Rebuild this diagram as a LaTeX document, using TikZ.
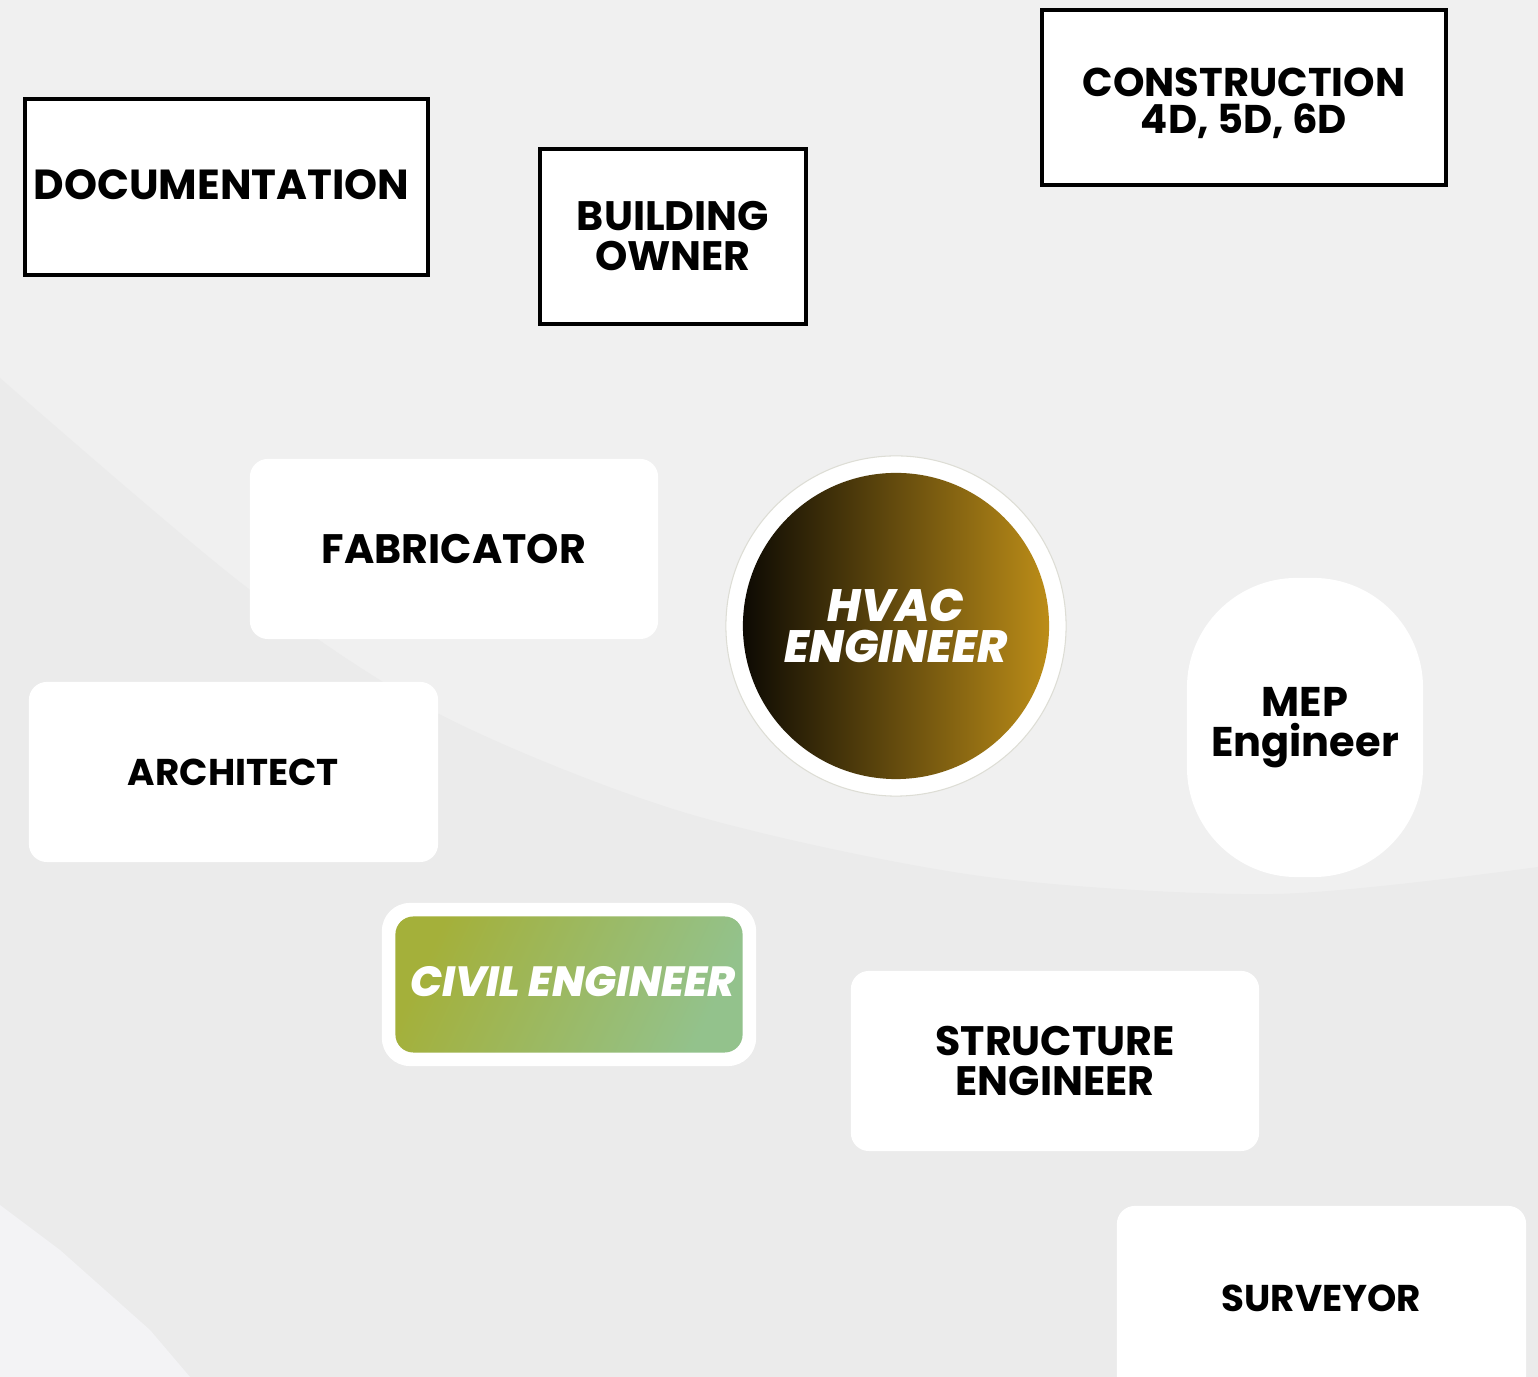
\documentclass[tikz,border=0pt]{standalone}
\usepackage{fontspec}
\setmainfont{Poppins}
\newfontfamily\heavyfont{Poppins ExtraBold Italic}
\usetikzlibrary{positioning}

\definecolor{bgtop}{HTML}{F0F0F0}
\definecolor{bgbottom}{HTML}{EBEBEB}
\definecolor{bgcorner}{HTML}{F3F3F5}
\definecolor{hvacdark}{HTML}{0D0A03}
\definecolor{hvacgold}{HTML}{BC8D18}
\definecolor{civilleft}{HTML}{A4B03A}
\definecolor{civilright}{HTML}{93C28C}
\definecolor{ringgrey}{HTML}{DDDDD5}

\newcommand{\boxfont}[1]{\fontsize{#1}{11.4}\selectfont\bfseries}

\begin{document}
\begin{tikzpicture}[x=0.01cm,y=-0.01cm,
 label text/.style={font=\boxfont{11.7},align=center,text=black},
 framed/.style={label text,draw=black,line width=0.04cm,fill=white,
  minimum width=4.03cm,minimum height=1.76cm,inner sep=0pt},
 card/.style={label text,fill=white,rounded corners=0.18cm,
  minimum width=4.08cm,minimum height=1.8cm,inner sep=0pt},
 heavy text/.style={font=\fontsize{12.9}{11.4}\selectfont\heavyfont,
  align=center,text=white,inner sep=0pt}]
 % background
 \useasboundingbox (0,0) rectangle (1538,1377);
 \fill[bgtop] (0,0) rectangle (1538,1377);
 \fill[bgbottom] plot[smooth] coordinates {(0,378) (245,586) (441,715)
  (686,813) (980,876) (1275,894) (1538,867)} -- (1538,1377) -- (0,1377) -- cycle;
 \fill[bgcorner] (0,1205) -- (60,1250) -- (150,1330) -- (190,1377) -- (0,1377) -- cycle;

 % framed boxes on top
 \node[framed] (doc) at (226.5,187) {};
 \node[label text,font=\boxfont{11.95},inner sep=0pt] (doctext)
  at ([xshift=-0.05cm,yshift=0.02cm]doc.center) {DOCUMENTATION};
 \node[framed,minimum width=2.66cm,minimum height=1.75cm] (owner) at (673,236.5)
  {BUILDING\\OWNER};
 \node[framed,minimum width=4.04cm,minimum height=1.75cm] (cons) at (1244,97.5) {};
 \node[label text,font=\fontsize{11.4}{10.6}\selectfont\bfseries,inner sep=0pt]
  (constext) at ([yshift=-0.06cm]cons.center) {CONSTRUCTION\\4D, 5D, 6D};

 % white cards
 \node[card] (fab) at (454,549) {FABRICATOR};
 \node[card,minimum width=4.09cm,font=\boxfont{10.6}] (arch) at (233.5,772)
  {ARCHITECT};
 \node[card] (struct) at (1055,1061) {STRUCTURE\\ENGINEER};
 \node[card,minimum width=4.09cm,minimum height=1.9cm,font=\boxfont{10.6}]
  (surv) at (1321.5,1301) {\raisebox{0.05cm}{SURVEYOR}};
 \node[card,rounded corners=1.1cm,minimum width=2.36cm,minimum height=2.99cm,
  font=\boxfont{11.8}] (mep) at (1305,727.5) {MEP\\Engineer};

 % HVAC engineer
 \node[circle,fill=white,draw=ringgrey,line width=0.3pt,minimum size=3.4cm]
  (hvacring) at (896,626) {};
 \node[circle,left color=hvacdark,right color=hvacgold,minimum size=3.06cm]
  (hvac) at (hvacring) {};
 \node[heavy text] (hvactext) at (hvac.center) {HVAC\\ENGINEER};

 % civil engineer
 \node[fill=white,rounded corners=0.28cm,minimum width=3.74cm,
  minimum height=1.63cm] (civilframe) at (569,984.5) {};
 \node[rounded corners=0.18cm,left color=civilleft,right color=civilright,
  shading angle=65,minimum width=3.47cm,minimum height=1.36cm]
  (civil) at (civilframe) {};
 \node[heavy text,font=\fontsize{12}{11.4}\selectfont\heavyfont]
  (civiltext) at ([xshift=0.04cm,yshift=0.03cm]civil.center) {CIVIL ENGINEER};
\end{tikzpicture}
\end{document}
